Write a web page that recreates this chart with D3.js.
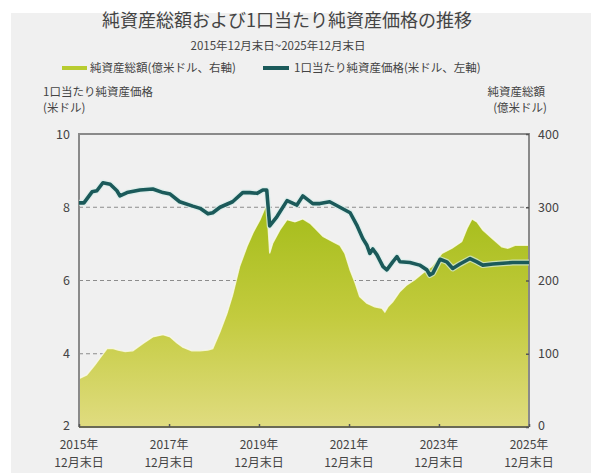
<!DOCTYPE html>
<html><head><meta charset="utf-8">
<script src="https://cdn.jsdelivr.net/npm/d3@7"></script>
<style>
body{margin:0;background:#fff}
svg{display:block}
text{font-family:"Noto Sans CJK JP","Noto Sans",sans-serif;fill:#444}
</style>
</head><body>
<svg id="c" width="591" height="473"></svg>
<script>
// ---- data ----
const navDates = ["2015-12-31","2016-02-09","2016-04-15","2016-05-24","2016-07-12","2016-09-09","2016-11-03","2016-11-27","2017-01-24","2017-05-09","2017-08-21","2017-11-12","2018-01-09","2018-03-27","2018-07-12","2018-09-09","2018-11-12","2018-12-21","2019-02-18","2019-05-31","2019-08-21","2019-10-18","2019-12-15","2020-01-31","2020-03-03","2020-03-27","2020-05-24","2020-08-15","2020-11-03","2020-12-21","2021-03-12","2021-05-09","2021-07-27","2021-10-18","2022-01-09","2022-03-03","2022-04-21","2022-05-24","2022-06-18","2022-07-12","2022-08-15","2022-10-03","2022-11-03","2022-12-21","2023-01-24","2023-02-18","2023-05-09","2023-07-27","2023-09-24","2023-10-18","2023-11-12","2024-01-09","2024-03-03","2024-04-21","2024-06-18","2024-09-09","2024-11-03","2024-12-21","2025-03-12","2025-06-03","2025-08-21","2025-12-31"];
const navValues = [8.12,8.12,8.42,8.45,8.67,8.63,8.45,8.31,8.40,8.47,8.50,8.40,8.36,8.15,8.03,7.97,7.82,7.85,8.00,8.15,8.40,8.40,8.38,8.47,8.47,7.49,7.74,8.18,8.06,8.31,8.10,8.10,8.15,8.00,7.85,7.52,7.15,6.97,6.74,6.86,6.70,6.38,6.29,6.51,6.65,6.51,6.49,6.42,6.29,6.15,6.20,6.58,6.51,6.33,6.45,6.60,6.51,6.42,6.45,6.47,6.49,6.49];

const assetDates = ["2015-12-31","2016-03-03","2016-05-09","2016-06-18","2016-08-15","2016-10-03","2016-11-12","2017-01-09","2017-03-12","2017-06-03","2017-08-21","2017-11-12","2018-01-09","2018-03-03","2018-04-21","2018-07-03","2018-09-09","2018-11-12","2018-12-21","2019-02-18","2019-04-15","2019-05-31","2019-07-27","2019-09-24","2019-11-12","2020-01-09","2020-02-18","2020-03-03","2020-03-27","2020-04-21","2020-06-18","2020-08-15","2020-10-18","2020-12-21","2021-02-18","2021-06-03","2021-08-21","2021-10-18","2021-11-27","2022-01-09","2022-02-18","2022-03-27","2022-05-24","2022-07-27","2022-09-24","2022-10-18","2022-11-12","2022-12-21","2023-02-18","2023-04-15","2023-06-18","2023-08-21","2023-11-03","2024-01-24","2024-04-15","2024-07-03","2024-08-15","2024-09-24","2024-11-03","2024-12-21","2025-03-03","2025-05-24","2025-07-12","2025-09-09","2025-12-31"];
const assetValues = [66,71,85,94,107,107,105,103,104,114,123,126,123,115,109,104,104,105,107,130,155,180,219,246,265,283,299,302,237,251,269,283,280,284,278,260,253,248,237,214,197,178,169,164,162,157,164,171,185,194,201,210,219,237,244,253,271,284,280,269,258,246,244,248,248];

const leftTicks = [2,4,6,8,10];
const rightTicks = [0,100,200,300,400];
const gridValues = [4,6,8];
const xTickDates = ["2015-12-31","2017-12-31","2019-12-31","2021-12-31","2023-12-31","2025-12-31"];

const titleText = "純資産総額および1口当たり純資産価格の推移";
const subtitleText = "2015年12月末日~2025年12月末日";
const legendAsset = "純資産総額(億米ドル、右軸)";
const legendNav = "1口当たり純資産価格(米ドル、左軸)";
const leftTitle = ["1口当たり純資産価格","(米ドル)"];
const rightTitle = ["純資産総額","(億米ドル)"];

// ---- chart ----
const parse = d3.timeParse("%Y-%m-%d");
const svg = d3.select("#c");
const L = 79, R = 529, T = 134, B = 427;

svg.append("rect").attr("x",0).attr("y",0).attr("width",591).attr("height",473).attr("fill","#fff");
svg.append("rect").attr("x",11).attr("y",13).attr("width",580).attr("height",460).attr("fill","#f0f0f0");

const x = d3.scaleTime().domain([parse("2015-12-31"), parse("2025-12-31")]).range([L,R]);
const yL = d3.scaleLinear().domain([2,10]).range([B,T]);
const yR = d3.scaleLinear().domain([0,400]).range([B,T]);

const defs = svg.append("defs");
const grad = defs.append("linearGradient").attr("id","ag").attr("gradientUnits","userSpaceOnUse")
  .attr("x1",0).attr("x2",0).attr("y1",yR(300)).attr("y2",yR(0));
grad.append("stop").attr("offset","0").attr("stop-color","#a5bd1a");
grad.append("stop").attr("offset","0.5").attr("stop-color","#c3cb3e");
grad.append("stop").attr("offset","1").attr("stop-color","#e0dc80");

// grid
svg.append("g").selectAll("line").data(gridValues).join("line")
  .attr("x1",L).attr("x2",R).attr("y1",d=>yL(d)).attr("y2",d=>yL(d))
  .attr("stroke","#8c8c8c").attr("stroke-width",1).attr("stroke-dasharray","4,3");

// area
const aData = assetDates.map((d,i)=>({d:parse(d), v:assetValues[i]}));
svg.append("path").datum(aData)
  .attr("d", d3.area().x(p=>x(p.d)).y0(yR(0)).y1(p=>yR(p.v)))
  .attr("fill","url(#ag)");
svg.append("path").datum(aData)
  .attr("d", d3.line().x(p=>x(p.d)).y(p=>yR(p.v)))
  .attr("fill","none").attr("stroke","#fbfbe8").attr("stroke-width",1.3).attr("stroke-opacity",0.8);

// frame
svg.append("path").attr("d",`M${L},${B}V${T}H${R}V${B}`).attr("fill","none").attr("stroke","#8a8a8a").attr("stroke-width",2);
svg.append("line").attr("x1",L).attr("x2",R).attr("y1",B).attr("y2",B).attr("stroke","#6a6a55").attr("stroke-width",2);

// nav line
const nData = navDates.map((d,i)=>({d:parse(d), v:navValues[i]}));
const nLine = d3.line().x(p=>x(p.d)).y(p=>yL(p.v));
svg.append("path").datum(nData).attr("d",nLine).attr("fill","none")
  .attr("stroke","#d6ece8").attr("stroke-width",6).attr("stroke-linejoin","round").attr("stroke-opacity",0.7);
svg.append("path").datum(nData).attr("d",nLine).attr("fill","none")
  .attr("stroke","#1b5a5a").attr("stroke-width",3.6).attr("stroke-linejoin","round");

// axes
const axL = svg.append("g").attr("transform",`translate(${L},0)`)
  .call(d3.axisLeft(yL).tickValues(leftTicks).tickSize(0).tickPadding(9).tickFormat(d3.format("d")));
const axR = svg.append("g").attr("transform",`translate(${R},0)`)
  .call(d3.axisRight(yR).tickValues(rightTicks).tickSize(-3).tickPadding(9).tickFormat(d3.format("d")));
const axB = svg.append("g").attr("transform",`translate(0,${B})`)
  .call(d3.axisBottom(x).tickValues(xTickDates.map(parse)).tickSize(-3).tickFormat(""));
[axL,axR,axB].forEach(g=>{ g.select(".domain").remove(); g.selectAll(".tick line").attr("stroke","#555").attr("stroke-width",1.5);
  g.selectAll("text").style("font-size","12.5px").attr("fill","#444"); });
axL.selectAll(".tick").filter(d=>d===2).select("text").attr("dy","0.2em");
axR.selectAll(".tick").filter(d=>d===0).select("text").attr("dy","0.2em");

// x labels two lines
const xl = svg.append("g").selectAll("g").data(xTickDates).join("g")
  .attr("transform", d=>`translate(${x(parse(d))},0)`);
xl.append("text").attr("y",449).attr("text-anchor","middle").style("font-size","12px").text(d=>d.slice(0,4)+"年");
xl.append("text").attr("y",467).attr("text-anchor","middle").style("font-size","12px").text("12月末日");

// titles
svg.append("text").attr("x",287).attr("y",27).attr("text-anchor","middle").style("font-size","18px").attr("fill","#444").text(titleText);
svg.append("text").attr("x",278).attr("y",50).attr("text-anchor","middle").style("font-size","11.5px").text(subtitleText);

// legend
const lg = svg.append("g");
lg.append("line").attr("x1",62).attr("x2",87).attr("y1",68).attr("y2",68).attr("stroke","#b8cc30").attr("stroke-width",4);
lg.append("text").attr("x",90).attr("y",72).style("font-size","11.5px").text(legendAsset);
lg.append("line").attr("x1",263).attr("x2",289).attr("y1",68).attr("y2",68).attr("stroke","#1b5a5a").attr("stroke-width",4);
lg.append("text").attr("x",294).attr("y",72).style("font-size","11.5px").text(legendNav);

// axis titles
svg.append("text").attr("x",43).attr("y",96).style("font-size","11.5px").text(leftTitle[0]);
svg.append("text").attr("x",43).attr("y",112).style("font-size","11.5px").text(leftTitle[1]);
svg.append("text").attr("x",545).attr("y",96).attr("text-anchor","end").style("font-size","11.5px").text(rightTitle[0]);
svg.append("text").attr("x",547).attr("y",112).attr("text-anchor","end").style("font-size","11.5px").text(rightTitle[1]);
</script>
</body></html>
